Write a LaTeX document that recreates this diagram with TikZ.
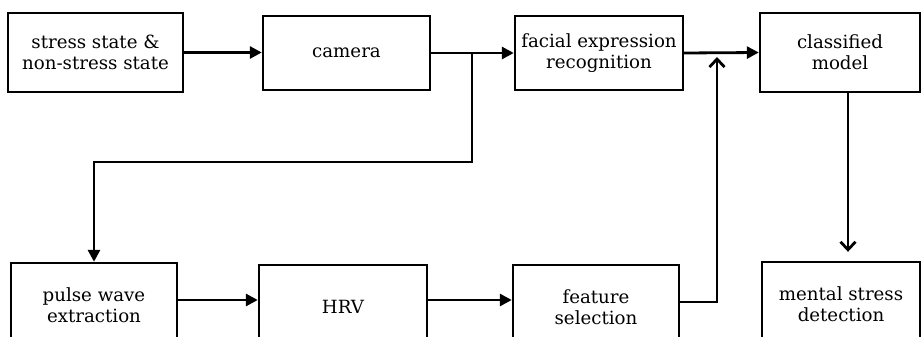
\documentclass[tikz,border=0pt]{standalone}
\usepackage{fontspec}
\setmainfont{DejaVu Serif}
\usetikzlibrary{arrows.meta}
\begin{document}
\begin{tikzpicture}[x=1pt,y=-1pt,
  box/.style={draw=black, line width=2.4pt, align=center, inner sep=0pt,
    font=\fontsize{18.2}{21}\selectfont},
  link/.style={line width=2.8pt, draw=black},
  arr/.style={link, -{Triangle[length=12pt,width=12pt]}},
  barb/.style={link, -{Straight Barb[length=8pt,width=15pt,line width=2.8pt]}}]
\useasboundingbox (0,0) rectangle (923,337);
\clip (0,0) rectangle (923,337);
\fill[white] (0,0) rectangle (923,337);

% upper row
\node[box, minimum width=175pt, minimum height=79pt] (b1) at (95.5,52.5)
  {stress state \&\\non-stress state};
\node[box, minimum width=167pt, minimum height=74pt] (b2) at (346.5,53) {camera};
\node[box, minimum width=168pt, minimum height=74pt] (b3) at (599,53)
  {facial expression\\recognition};
\node[box, minimum width=160pt, minimum height=79pt] (b4) at (840,52.5)
  {classified\\model};

% lower row (boxes run past the lower edge)
\node[box, minimum width=166pt, minimum height=84pt] (b5) at (94,305)
  {pulse wave\\extraction};
\node[box, minimum width=168pt, minimum height=84pt] (b6) at (343,307) {HRV};
\node[box, minimum width=166pt, minimum height=84pt] (b7) at (596,307)
  {feature\\selection};
\node[box, minimum width=158pt, minimum height=84pt] (b8) at (841,304)
  {mental stress\\detection};

% routing points
\coordinate (j) at (472,53);
\coordinate (k) at (472,162);
\coordinate (m) at (717,57);
\coordinate (c) at (848,0);

% connectors
\draw[arr] (b1.east) -- (b1.east -| b2.west);
\draw[arr] (b2.east) -- (b3.west);
\draw[arr] (b3.east) -- (b4.west);
\draw[arr] (j) -- (k) -| (b5.north);
\draw[arr] ([yshift=5pt]b5.east) -- ([yshift=5pt]b5.east -| b6.west);
\draw[arr] ([yshift=7pt]b6.east) -- ([yshift=7pt]b6.east -| b7.west);
\draw[barb] ([yshift=5pt]b7.east) -| (m);
\draw[barb] (b4.south -| c) -- ([yshift=9pt]b8.north -| c);
\end{tikzpicture}
\end{document}
